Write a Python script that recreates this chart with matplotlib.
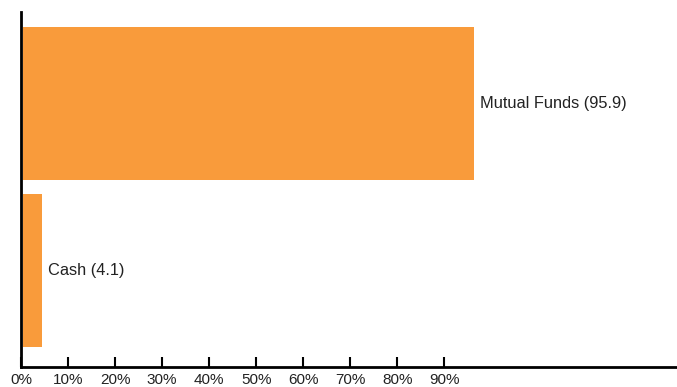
import matplotlib.pyplot as plt

plt.rcParams['font.family'] = ['Liberation Sans', 'DejaVu Sans']

# data
categories = ['Cash', 'Mutual Funds']
values = [4.1, 95.9]
ticks = [0, 10, 20, 30, 40, 50, 60, 70, 80, 90]

fig = plt.figure(figsize=(6.77, 3.87), dpi=100)
ax = fig.add_axes([21/677, 20/387, 1 - 21/677, 355/387])

pos = range(len(categories))
ax.barh(pos, values, height=0.92, color='#F99B3B', left=0.4)
for p, c, v in zip(pos, categories, values):
    ax.text(v + 1.7, p, f'{c} ({v})', va='center', ha='left',
            fontsize=11.8, color='#222222')

ax.set_xlim(0, 139.5)
ax.set_ylim(-0.58, 1.55)
ax.set_xticks(ticks)
ax.set_xticklabels([f'{t}%' for t in ticks], fontsize=11, color='#222222')
ax.set_yticks([])
ax.tick_params(axis='x', direction='in', length=7, width=1.5, pad=4)
for s in ['top', 'right']:
    ax.spines[s].set_visible(False)
ax.spines['left'].set_linewidth(2)
ax.spines['bottom'].set_linewidth(2)

fig.savefig('out.png', dpi=100)
